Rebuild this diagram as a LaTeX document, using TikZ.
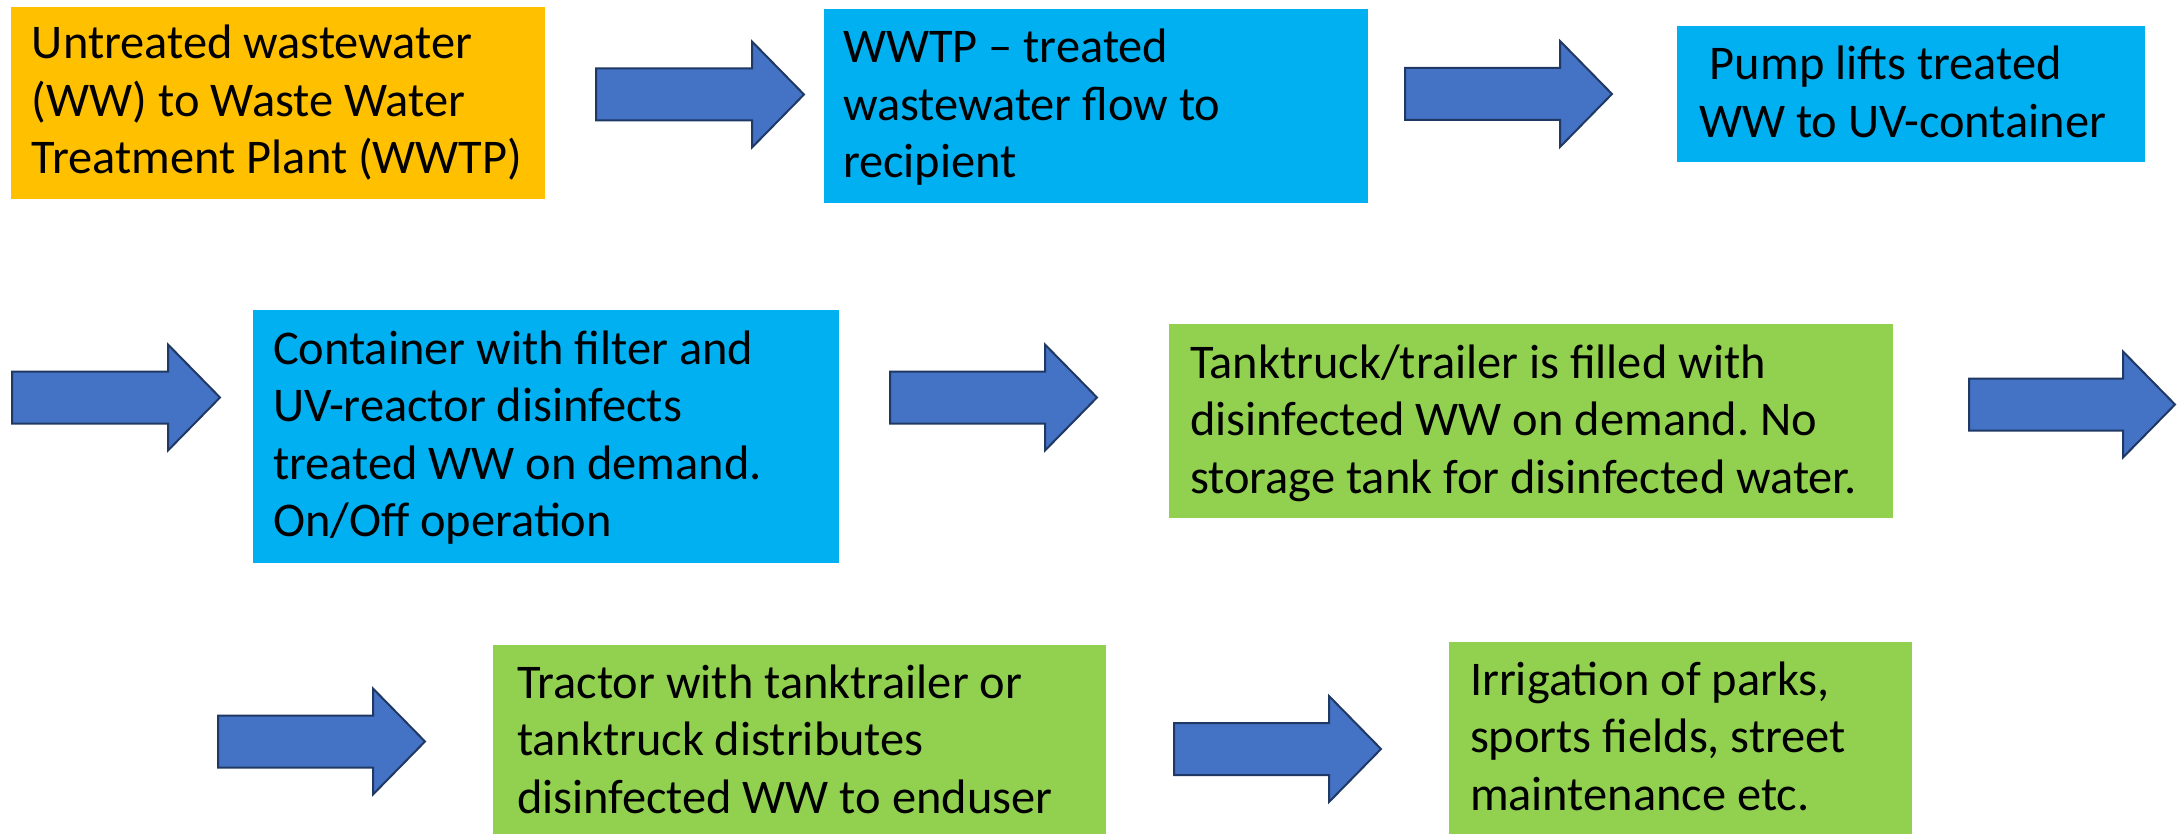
\documentclass[tikz,border=0pt]{standalone}
\usepackage{fontspec}
\setmainfont{Carlito}
\usetikzlibrary{fit}
\definecolor{cOrange}{HTML}{FFC000}
\definecolor{cCyan}{HTML}{00B0F0}
\definecolor{cGreen}{HTML}{92D050}
\definecolor{cArrow}{HTML}{4472C4}
\definecolor{cArrowLine}{HTML}{203864}
\newcommand\fl{\rule{0pt}{20pt}}
% name, x start, x tip, y centre
\newcommand\barrow[4]{%
  \coordinate (#1) at (#2,#4);
  \draw[blockarrow] (#2,#4-26) -- (#3-52,#4-26) -- (#3-52,#4-53) -- (#3,#4)
    -- (#3-52,#4+53) -- (#3-52,#4+26) -- (#2,#4+26) -- cycle;}
\frenchspacing
\begin{document}
\begin{tikzpicture}[x=0.5pt,y=-0.5pt,
  box/.style={inner sep=0pt, outer sep=0pt, draw=none},
  txt/.style={anchor=north west, inner sep=0pt, outer sep=0pt, align=left,
    font=\fontsize{24.2}{28.75}\selectfont\frenchspacing, text=black},
  blockarrow/.style={fill=cArrow, draw=cArrowLine, line width=1pt, line join=miter}]
\useasboundingbox (0,0) rectangle (2180,834);
\clip (0,0) rectangle (2180,834);
% boxes
\node[box, fill=cOrange, fit={(11,7)(545,199)}] (b1) {};
\node[box, fill=cCyan, fit={(824,9)(1368,203)}] (b2) {};
\node[box, fill=cCyan, fit={(1677,26)(2145,162)}] (b3) {};
\node[box, fill=cCyan, fit={(253,310)(839,563)}] (b4) {};
\node[box, fill=cGreen, fit={(1169,324)(1893,518)}] (b5) {};
\node[box, fill=cGreen, fit={(493,645)(1106,834)}] (b6) {};
\node[box, fill=cGreen, fit={(1449,642)(1912,834)}] (b7) {};
% texts
\node[txt] (t1) at (32,19) {\fl Untreated wastewater\\(WW) to Waste Water\\Treatment Plant (WWTP)};
\node[txt] (t2) at (843,23) {\fl WWTP – treated\\wastewater flow to\\recipient};
\node[txt] (t3) at (1699,40) {\fl~Pump lifts treated\\WW to UV-container};
\node[txt] (t4) at (273,324) {\fl Container with filter and\\UV-reactor disinfects\\treated WW on demand.\\On/Off operation};
\node[txt] (t5) at (1190,338) {\fl Tanktruck/trailer is filled with\\disinfected WW on demand. No\\storage tank for disinfected water.};
\node[txt] (t6) at (517,658) {\fl Tractor with tanktrailer or\\tanktruck distributes\\disinfected WW to enduser};
\node[txt] (t7) at (1470,655) {\fl Irrigation of parks,\\sports fields, street\\maintenance etc.};
% block arrows
\barrow{a1}{596}{804}{94.5}
\barrow{a2}{1405}{1612}{94}
\barrow{a3}{12}{220}{397.5}
\barrow{a4}{890}{1097}{397.5}
\barrow{a5}{1969}{2175}{404.5}
\barrow{a6}{218}{425}{741.5}
\barrow{a7}{1174}{1381}{749}
\end{tikzpicture}
\end{document}
